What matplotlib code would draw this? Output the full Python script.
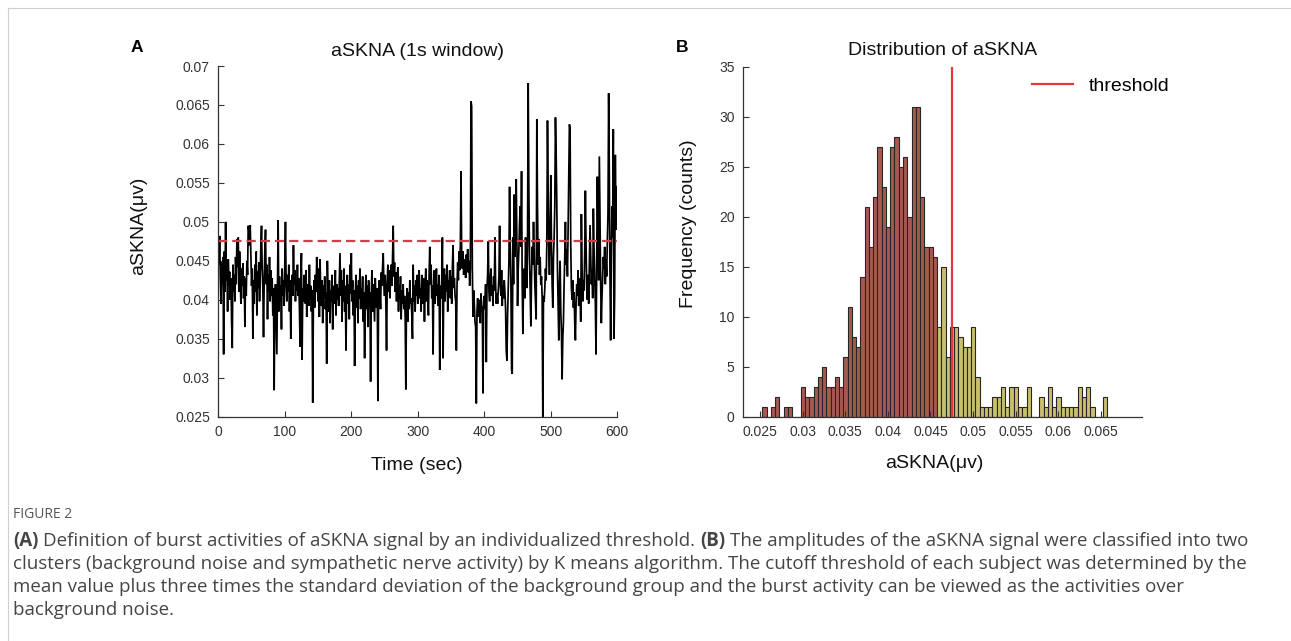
import numpy as np
import matplotlib
matplotlib.use("Agg")
import matplotlib.pyplot as plt
from matplotlib.lines import Line2D
from matplotlib.transforms import IdentityTransform

plt.rcParams['font.family'] = ['Liberation Sans', 'DejaVu Sans']

# ---------------- data ----------------
# Panel A: aSKNA (1 s window), values in units of 1e-4 uV, one per second
askna_e4 = [
    470, 445, 482, 430, 395, 448, 420, 455, 330, 462, 410, 500, 425, 440, 385, 452, 418, 436, 400, 428,
    372, 338, 445, 410, 432, 398, 455, 420, 478, 442, 480, 410, 462, 425, 395, 440, 418, 447, 402, 430,
    365, 428, 405, 450, 432, 495, 488, 470, 496, 455, 418, 440, 350, 425, 395, 445, 410, 462, 380, 436,
    415, 448, 398, 430, 470, 495, 440, 415, 352, 425, 462, 490, 420, 445, 375, 432, 410, 455, 398, 438,
    405, 428, 380, 415, 284, 395, 420, 372, 330, 410, 502, 385, 430, 398, 418, 362, 440, 405, 425, 392,
    445, 500, 420, 398, 432, 410, 445, 385, 425, 350, 418, 432, 405, 470, 420, 438, 398, 425, 412, 445,
    405, 428, 390, 340, 425, 460, 323, 415, 398, 432, 410, 395, 438, 378, 420, 405, 392, 445, 400, 418,
    385, 412, 268, 398, 425, 390, 432, 410, 455, 420, 398, 440, 378, 452, 412, 392, 425, 370, 418, 402,
    430, 388, 410, 318, 450, 405, 385, 425, 370, 412, 398, 432, 362, 418, 395, 405, 438, 380, 420, 400,
    415, 392, 428, 460, 405, 438, 372, 425, 398, 440, 385, 418, 335, 410, 432, 395, 420, 375, 445, 408,
    460, 398, 425, 380, 412, 315, 405, 432, 390, 418, 370, 425, 402, 440, 388, 415, 395, 430, 372, 410,
    325, 405, 432, 388, 418, 365, 425, 398, 410, 295, 402, 438, 385, 420, 395, 372, 428, 405, 390, 415,
    270, 398, 425, 410, 388, 435, 418, 442, 460, 420, 405, 432, 395, 335, 420, 445, 410, 438, 402, 428,
    445, 418, 452, 495, 430, 448, 410, 435, 398, 425, 442, 385, 418, 402, 430, 375, 412, 395, 420, 388,
    405, 378, 285, 398, 415, 372, 410, 388, 425, 395, 402, 380, 350, 445, 398, 418, 385, 425, 405, 432,
    395, 420, 438, 402, 415, 385, 432, 410, 395, 428, 372, 418, 440, 398, 425, 405, 380, 432, 468, 420,
    445, 402, 418, 330, 425, 438, 395, 415, 440, 405, 420, 392, 432, 310, 418, 402, 425, 480, 325, 415,
    440, 398, 432, 410, 445, 385, 425, 418, 438, 402, 430, 395, 442, 470, 415, 428, 405, 398, 335, 420,
    448, 425, 462, 438, 470, 565, 455, 440, 462, 432, 452, 445, 428, 458, 440, 465, 435, 450, 418, 440,
    655, 648, 440, 378, 412, 395, 372, 365, 267, 385, 402, 378, 392, 400, 370, 408, 385, 392, 280, 398,
    405, 388, 420, 320, 415, 432, 475, 410, 398, 425, 440, 405, 418, 392, 430, 412, 480, 420, 395, 408,
    395, 412, 430, 495, 420, 405, 438, 392, 418, 402, 425, 410, 388, 335, 322, 380, 415, 448, 545, 470,
    425, 310, 305, 480, 420, 535, 455, 500, 555, 470, 392, 440, 465, 498, 520, 468, 565, 420, 356, 425,
    440, 402, 480, 452, 415, 470, 678, 540, 455, 412, 366, 430, 468, 445, 500, 462, 420, 398, 375, 632,
    520, 445, 478, 432, 455, 419, 430, 402, 250, 405, 398, 415, 440, 425, 470, 630, 540, 468, 432, 490,
    560, 470, 420, 390, 455, 480, 520, 634, 590, 525, 440, 395, 348, 420, 450, 385, 360, 298, 350, 372,
    420, 455, 500, 445, 465, 430, 488, 560, 625, 620, 470, 415, 400, 425, 390, 410, 372, 348, 395, 420,
    405, 438, 392, 428, 415, 372, 510, 440, 398, 425, 412, 460, 540, 470, 415, 400, 432, 395, 445, 496,
    455, 420, 438, 402, 517, 465, 430, 395, 330, 440, 558, 480, 425, 584, 500, 420, 370, 405, 432, 455,
    440, 468, 420, 452, 430, 475, 510, 665, 560, 430, 348, 455, 520, 480, 619, 350, 405, 586, 490, 545,
]
threshold = 0.0475

# Panel B: histogram of aSKNA amplitudes
bin_start = 0.02528
bin_width = 0.0005
background_counts = [1, 0, 1, 2, 0, 1, 1, 0, 0, 3, 2, 2, 3, 4, 5, 3, 3, 4, 3, 6,
                     11, 8, 7, 14, 21, 17, 22, 27, 23, 19, 27, 28, 25, 26, 20, 31, 31, 22, 17, 17, 16]
burst_counts = [9, 15, 6, 9, 9, 8, 7, 7, 9, 4, 1, 1, 1, 2, 2, 3, 1, 3, 3, 1,
                1, 3, 0, 0, 2, 1, 3, 1, 2, 1, 1, 1, 1, 3, 2, 3, 1, 0, 0, 2]

a_xticks = [0, 100, 200, 300, 400, 500, 600]
a_yticks = [0.025, 0.03, 0.035, 0.04, 0.045, 0.05, 0.055, 0.06, 0.065, 0.07]
b_xticks = [0.025, 0.03, 0.035, 0.04, 0.045, 0.05, 0.055, 0.06, 0.065]
b_yticks = [0, 5, 10, 15, 20, 25, 30, 35]

caption_title = "FIGURE 2"
caption_lines = [
    [("(A)", "bold"), ("Definition of burst activities of aSKNA signal by an individualized threshold.", "normal"),
     ("(B)", "bold"), ("The amplitudes of the aSKNA signal were classified into two", "normal")],
    [("clusters (background noise and sympathetic nerve activity) by K means algorithm. The cutoff threshold of each subject was determined by the", "normal")],
    [("mean value plus three times the standard deviation of the background group and the burst activity can be viewed as the activities over", "normal")],
    [("background noise.", "normal")],
]

# ---------------- figure ----------------
W, H = 1291, 641
fig = plt.figure(figsize=(W / 100, H / 100), dpi=100)
fig.patch.set_facecolor("white")

axis_col = "#333333"
tick_col = "#333333"
lab_fs = 14
tick_fs = 10


def style(ax):
    for s in ("top", "right"):
        ax.spines[s].set_visible(False)
    for s in ("left", "bottom"):
        ax.spines[s].set_color(axis_col)
        ax.spines[s].set_linewidth(0.9)
    ax.tick_params(direction="in", length=4, width=0.8, color=axis_col,
                   labelcolor=tick_col, labelsize=tick_fs, pad=6)


def ax_rect(x0, x1, ytop, ybot):
    return [x0 / W, 1 - ybot / H, (x1 - x0) / W, (ybot - ytop) / H]


# Panel A
axA = fig.add_axes(ax_rect(218.3, 617.3, 66.0, 416.7))
style(axA)
askna = np.array(askna_e4) / 10000.0
t = np.arange(len(askna))
axA.plot(t, askna, color="black", lw=1.25, solid_joinstyle="miter")
axA.axhline(threshold, color="#d23c4b", lw=1.6, ls=(0, (4.2, 2.2)))
axA.set_xlim(0, 600)
axA.set_ylim(0.025, 0.07)
axA.set_xticks(a_xticks)
axA.set_xticklabels([f"{v:g}" for v in a_xticks])
axA.set_yticks(a_yticks)
axA.set_yticklabels([f"{v:g}" for v in a_yticks])
axA.set_title("aSKNA (1s window)", fontsize=lab_fs, y=1 + (66.0 - 51.5) / 350.7, pad=0, va="center", color="#111111")
axA.set_xlabel("Time (sec)", fontsize=lab_fs, color="#111111")
axA.xaxis.set_label_coords(0.497, -(466 - 416.7) / 350.7)
axA.xaxis.label.set_va("center")
axA.set_ylabel("aSKNA(μv)", fontsize=lab_fs, color="#111111")
axA.yaxis.set_label_coords(-(218.3 - 139) / 399, (416.7 - 226) / 350.7)
axA.yaxis.label.set_va("center")

# Panel B
axB = fig.add_axes(ax_rect(743.0, 1141.7, 66.7, 416.7))
style(axB)
counts = background_counts + burst_counts
lefts = bin_start + bin_width * np.arange(len(counts))
colors = ["#a8594f"] * len(background_counts) + ["#c9bf6d"] * len(burst_counts)
axB.bar(lefts, counts, width=bin_width, align="edge", color=colors,
        edgecolor="#262626", linewidth=0.8)
axB.axvline(threshold, color="#e23a3a", lw=1.6, label="threshold")
axB.set_xlim(0.023, 0.0698)
axB.set_ylim(0, 35)
axB.set_xticks(b_xticks)
axB.set_xticklabels([f"{v:g}" for v in b_xticks])
axB.set_yticks(b_yticks)
axB.set_yticklabels([f"{v:g}" for v in b_yticks])
axB.set_title("Distribution of aSKNA", fontsize=lab_fs, y=1 + (66.7 - 50.5) / 350, pad=0, va="center", color="#111111")
axB.set_xlabel("aSKNA(μv)", fontsize=lab_fs, color="#111111")
axB.xaxis.set_label_coords((934 - 743) / 398.7, -(463.5 - 416.7) / 350)
axB.xaxis.label.set_va("center")
axB.set_ylabel("Frequency (counts)", fontsize=lab_fs, color="#111111")
axB.yaxis.set_label_coords(-(743 - 689) / 398.7, (416.7 - 223.5) / 350)
axB.yaxis.label.set_va("center")
axB.legend(loc="center left", bbox_to_anchor=((1032 - 743) / 398.7, (416.7 - 86) / 350),
           frameon=False, fontsize=lab_fs, handlelength=2.1, handletextpad=0.8,
           borderpad=0, borderaxespad=0)

# Panel letters
fig.text(136.5 / W, 1 - 48 / H, "A", fontsize=12.5, fontweight="bold", ha="center", va="center")
fig.text(682.5 / W, 1 - 48 / H, "B", fontsize=12.5, fontweight="bold", ha="center", va="center")

# Page frame lines
fig.add_artist(Line2D([8 / W, 1], [1 - 7.5 / H, 1 - 7.5 / H], transform=fig.transFigure, color="#cfcfcf", lw=0.8))
fig.add_artist(Line2D([8 / W, 8 / W], [0, 1 - 7.5 / H], transform=fig.transFigure, color="#cfcfcf", lw=0.8))

# Caption
renderer = fig.canvas.get_renderer()
cap_font = "Open Sans"
cap_col = "#454545"
x0 = 13


def measure(s, size, weight="normal"):
    tt = fig.text(0, 0, s, fontsize=size, fontweight=weight, family=cap_font, transform=IdentityTransform())
    w = tt.get_window_extent(renderer).width
    tt.remove()
    return w


fig.text(x0, H - 515, caption_title, fontsize=10, family=cap_font, color="#555555",
         va="center", ha="left", transform=IdentityTransform())

# size the caption so that its first line spans the same width as in the page
base = 10.0
w_space = measure("a a", base) - measure("aa", base)
w_line1 = sum(measure(s, base, wgt) for s, wgt in caption_lines[0]) + w_space * (len(caption_lines[0]) - 1)
cap_fs = base * (1250 - x0) / w_line1

line_y = [541, 564, 587, 610]
for yy, runs in zip(line_y, caption_lines):
    sp = measure("a a", cap_fs) - measure("aa", cap_fs)
    x = x0
    for s, wgt in runs:
        tt = fig.text(x, H - yy, s, fontsize=cap_fs, fontweight=wgt, family=cap_font, color=cap_col,
                      va="center", ha="left", transform=IdentityTransform())
        x = tt.get_window_extent(renderer).x1 + sp

fig.savefig("out.png", dpi=100)
